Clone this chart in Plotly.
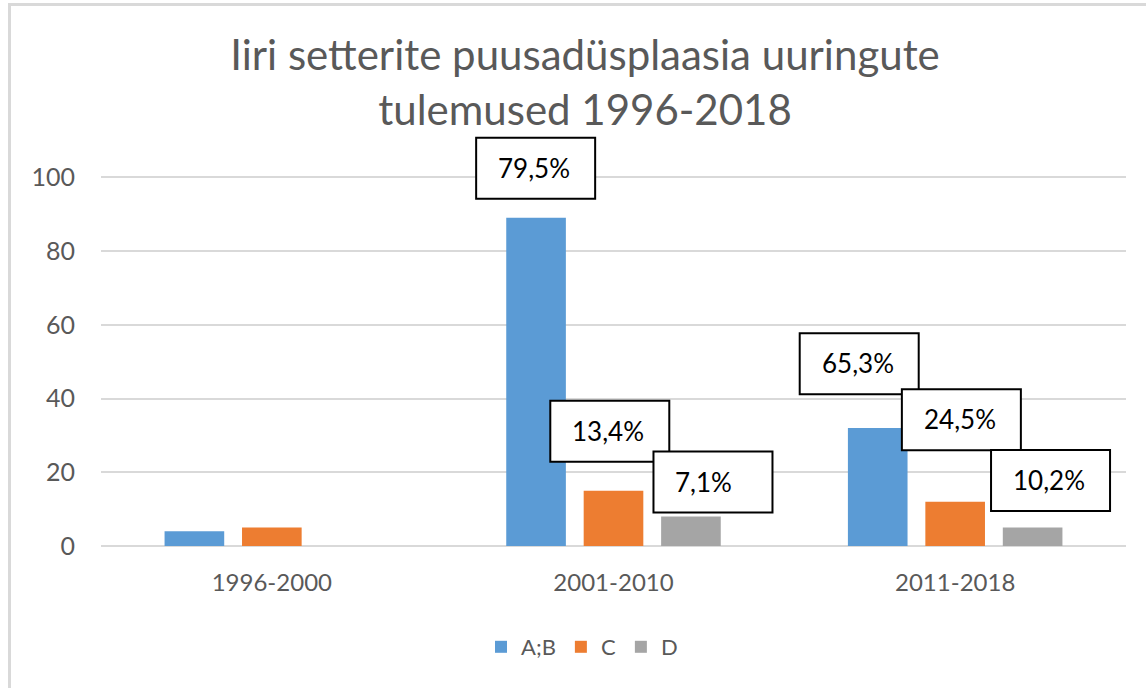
import plotly.graph_objects as go

# ---------------- data ----------------
categories = ["1996-2000", "2001-2010", "2011-2018"]
series_names = ["A;B", "C", "D"]
values_ab = [4, 89, 32]
values_c = [5, 15, 12]
values_d = [0, 8, 5]
y_ticks = [0, 20, 40, 60, 80, 100]

# label boxes (only for groups with shown labels): series index, category index,
# box left edge (category units) and box centre (value units)
label_series = [0, 1, 2, 0, 1, 2]
label_cat = [1, 1, 1, 2, 2, 2]
label_box_x = [0.598, 0.815, 1.117, 1.545, 1.844, 2.105]
label_box_y = [102.3, 31.0, 17.2, 49.3, 34.1, 17.6]

colors = ["#5B9BD5", "#ED7D31", "#A5A5A5"]
FONT = "Lato, 'Open Sans', sans-serif"
GRAY_TXT = "#595959"

W, H = 1146, 688
Y_TOP = 115  # axis extends above the top gridline so the top label box shows
ML, MR, MT, MB = 101, 20, 122, 142
plot_w = W - ML - MR
plot_h = H - MT - MB


def px_to_paper_x(px):
    return (px - ML) / plot_w


def px_to_paper_y(py):
    return (H - MB - py) / plot_h


all_series = [values_ab, values_c, values_d]

fig = go.Figure()
for name, vals, col in zip(series_names, all_series, colors):
    fig.add_trace(go.Bar(
        x=categories, y=vals, name=name,
        marker=dict(color=col, line=dict(width=0)),
    ))

# percentage labels computed from the data
shapes = []
annotations = []
for s, c, bx, by in zip(label_series, label_cat, label_box_x, label_box_y):
    total = sum(series[c] for series in all_series)
    pct = all_series[s][c] / total * 100
    txt = f"{pct:.1f}".replace(".", ",") + "%"
    shapes.append(dict(
        type="rect", xref="x", yref="y",
        xsizemode="pixel", ysizemode="pixel",
        xanchor=bx, yanchor=by,
        x0=0, x1=119, y0=-30, y1=31,
        line=dict(color="#000000", width=2),
        fillcolor="#FFFFFF", layer="above",
    ))
    annotations.append(dict(
        x=bx, y=by, xref="x", yref="y",
        xanchor="left", yanchor="middle", xshift=20, yshift=1,
        text=txt, showarrow=False,
        font=dict(family=FONT, size=26, color="#000000"),
    ))

# outer chart frame (light grey, runs off the right/bottom edges)
shapes.append(dict(
    type="rect", xref="paper", yref="paper",
    x0=px_to_paper_x(9.5), x1=px_to_paper_x(1170),
    y0=px_to_paper_y(720), y1=px_to_paper_y(4.5),
    line=dict(color="#D9D9D9", width=3), fillcolor="rgba(0,0,0,0)",
    layer="below",
))

fig.update_layout(
    width=W, height=H,
    margin=dict(l=ML, r=MR, t=MT, b=MB, pad=0),
    paper_bgcolor="#FFFFFF", plot_bgcolor="#FFFFFF",
    barmode="group", bargap=0.32, bargroupgap=0.23,
    title=dict(
        text="Iiri setterite puusadüsplaasia uuringute<br>tulemused 1996-2018",
        x=585 / W, xref="container", xanchor="center",
        y=1 - 70 / H, yref="container", yanchor="middle",
        font=dict(family=FONT, size=42, color=GRAY_TXT),
    ),
    xaxis=dict(
        type="category", showgrid=False, zeroline=False,
        showline=False, ticks="",
        tickfont=dict(family=FONT, size=24, color=GRAY_TXT),
        ticklabelstandoff=20,
    ),
    yaxis=dict(
        range=[0, Y_TOP], tickvals=y_ticks,
        showgrid=True, gridcolor="#D9D9D9", gridwidth=1.6,
        zeroline=True, zerolinecolor="#D9D9D9", zerolinewidth=1.6,
        showline=False, ticks="",
        tickfont=dict(family=FONT, size=25, color=GRAY_TXT),
        ticklabelstandoff=25,
    ),
    legend=dict(
        orientation="h", x=px_to_paper_x(582), xanchor="center",
        y=px_to_paper_y(647), yanchor="middle",
        font=dict(family=FONT, size=22, color=GRAY_TXT),
        itemwidth=30, bgcolor="rgba(0,0,0,0)",
    ),
    shapes=shapes,
    annotations=annotations,
    showlegend=True,
)

fig.write_html(
    "out.html",
    config={"displayModeBar": False},
    post_script="document.body.style.margin='0';document.body.style.overflow='hidden';",
)
